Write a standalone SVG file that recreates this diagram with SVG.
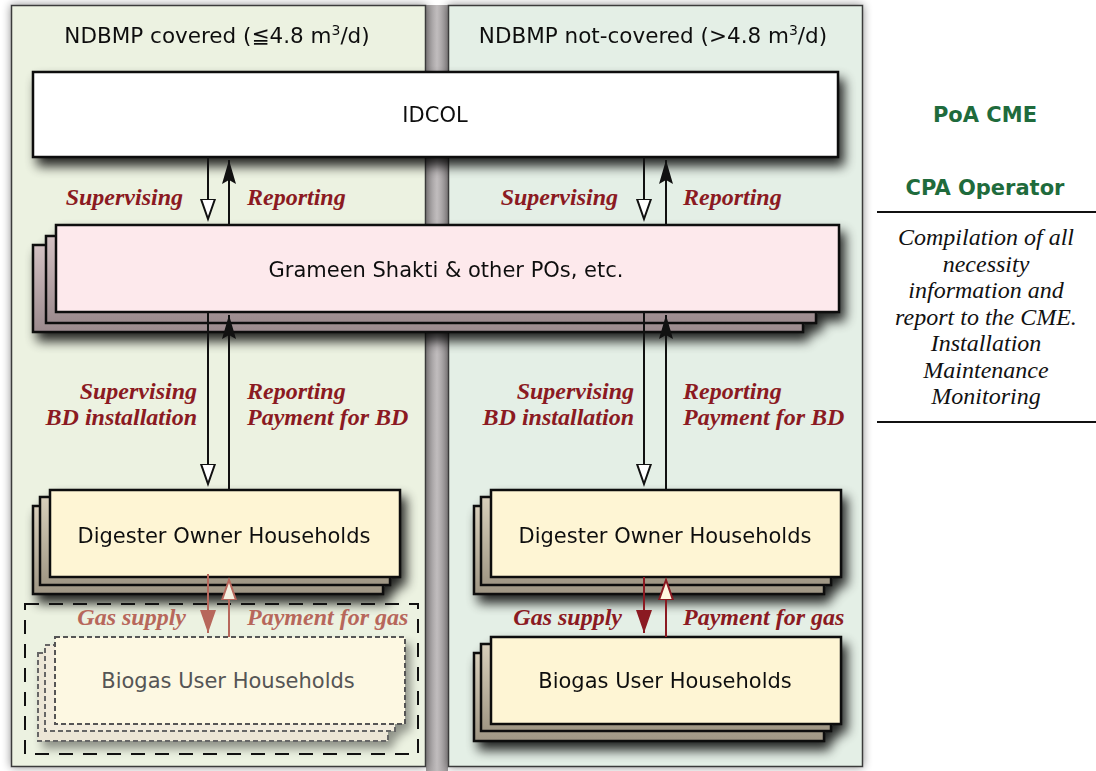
<svg xmlns="http://www.w3.org/2000/svg" width="1096" height="771" viewBox="0 0 1096 771">
<style>
.sans{font-family:"DejaVu Sans","Liberation Sans",sans-serif;font-size:21px;fill:#111;text-anchor:middle}
.hdr{font-size:21.5px}
.lbl{font-family:"Liberation Serif","Times New Roman",serif;font-style:italic;font-weight:bold;font-size:24px;fill:#8b1a22}
.fade{fill:#b7675b}
.end{text-anchor:end}
.note{font-family:"Liberation Serif","Times New Roman",serif;font-style:italic;font-size:24px;fill:#111;text-anchor:middle}
.grn{font-family:"DejaVu Sans","Liberation Sans",sans-serif;font-weight:bold;font-size:21px;fill:#1f6b3c;text-anchor:middle}
.box{stroke:#111;stroke-width:2.5}
.blk{stroke:#111;stroke-width:2;fill:none}
.red{stroke:#8b1a22;stroke-width:2;fill:none}
.redf{stroke:#b7675b;stroke-width:2;fill:none}
</style>
<defs>
<filter id="psh" x="-10%" y="-5%" width="120%" height="110%">
<feGaussianBlur in="SourceAlpha" stdDeviation="5"/>
<feComponentTransfer><feFuncA type="linear" slope="0.45"/></feComponentTransfer>
<feMerge><feMergeNode/><feMergeNode in="SourceGraphic"/></feMerge>
</filter>
<filter id="sh" x="-10%" y="-20%" width="125%" height="160%">
<feGaussianBlur in="SourceAlpha" stdDeviation="6"/>
<feOffset dx="5" dy="8"/>
<feComponentTransfer><feFuncA type="linear" slope="0.85"/></feComponentTransfer>
<feMerge><feMergeNode/><feMergeNode in="SourceGraphic"/></feMerge>
</filter>
<filter id="shl" x="-10%" y="-20%" width="125%" height="160%">
<feGaussianBlur in="SourceAlpha" stdDeviation="5"/>
<feOffset dx="5" dy="7"/>
<feComponentTransfer><feFuncA type="linear" slope="0.4"/></feComponentTransfer>
<feMerge><feMergeNode/><feMergeNode in="SourceGraphic"/></feMerge>
</filter>
<linearGradient id="pinkBack" x1="0" y1="0" x2="0" y2="1">
<stop offset="0" stop-color="#d3c1c3"/><stop offset="1" stop-color="#9b8a8d"/>
</linearGradient>
<linearGradient id="yelBack" x1="0" y1="0" x2="0" y2="1">
<stop offset="0" stop-color="#d8cfbb"/><stop offset="1" stop-color="#9f9684"/>
</linearGradient>
<linearGradient id="gap" x1="0" y1="0" x2="1" y2="0">
<stop offset="0" stop-color="#9c9899"/><stop offset="0.5" stop-color="#c0bcbd"/><stop offset="1" stop-color="#9c9899"/>
</linearGradient>
<marker id="hollow" markerUnits="userSpaceOnUse" markerWidth="24" markerHeight="18" viewBox="0 -9 24 18" refX="0" refY="0" orient="auto">
<path d="M0,-7 L20,0 L0,7 Z" fill="#fff" stroke="#111" stroke-width="2"/>
</marker>
<marker id="filled" markerUnits="userSpaceOnUse" markerWidth="26" markerHeight="18" viewBox="0 -9 26 18" refX="24" refY="0" orient="auto">
<path d="M0,-7 L24,0 L0,7 L4,0 Z" fill="#111"/>
</marker>
<marker id="hollowR" markerUnits="userSpaceOnUse" markerWidth="24" markerHeight="18" viewBox="0 -9 24 18" refX="0" refY="0" orient="auto">
<path d="M0,-7 L20,0 L0,7 Z" fill="#fff7e0" stroke="#8b1a22" stroke-width="2"/>
</marker>
<marker id="filledR" markerUnits="userSpaceOnUse" markerWidth="26" markerHeight="18" viewBox="0 -9 26 18" refX="23" refY="0" orient="auto">
<path d="M0,-8 L23,0 L0,8 Z" fill="#8b1a22"/>
</marker>
<marker id="hollowF" markerUnits="userSpaceOnUse" markerWidth="24" markerHeight="18" viewBox="0 -9 24 18" refX="0" refY="0" orient="auto">
<path d="M0,-7 L20,0 L0,7 Z" fill="#f4f0e0" stroke="#b7675b" stroke-width="2"/>
</marker>
<marker id="filledF" markerUnits="userSpaceOnUse" markerWidth="26" markerHeight="18" viewBox="0 -9 26 18" refX="23" refY="0" orient="auto">
<path d="M0,-8 L23,0 L0,8 Z" fill="#b7675b"/>
</marker>
</defs>

<rect x="0" y="0" width="1096" height="771" fill="#fff"/>
<rect x="426" y="5" width="22" height="766" fill="url(#gap)"/>

<g id="panel-left" filter="url(#psh)">
<rect x="11.5" y="5.5" width="414" height="761" fill="#ecf2e1" stroke="#3a3a3a" stroke-width="1.5"/>
<text class="sans hdr" x="217" y="43">NDBMP covered (≦4.8 m<tspan font-size="14" dy="-8">3</tspan><tspan dy="8">/d)</tspan></text>
</g>
<g id="panel-right" filter="url(#psh)">
<rect x="448.5" y="5.5" width="414" height="761" fill="#e4efe6" stroke="#3a3a3a" stroke-width="1.5"/>
<text class="sans hdr" x="653" y="43">NDBMP not-covered (&gt;4.8 m<tspan font-size="14" dy="-8">3</tspan><tspan dy="8">/d)</tspan></text>
</g>

<g id="idcol" filter="url(#sh)">
<rect class="box" x="33" y="72" width="805" height="85" fill="#fff"/>
<text class="sans" x="435" y="122">IDCOL</text>
</g>

<g id="grameen" filter="url(#sh)">
<rect class="box" x="33" y="245" width="770" height="87" fill="url(#pinkBack)"/>
<rect class="box" x="46" y="236" width="770" height="87" fill="url(#pinkBack)"/>
<rect class="box" x="56" y="225" width="783" height="87" fill="#fde9ec"/>
<text class="sans" x="446" y="277">Grameen Shakti &amp; other POs, etc.</text>
</g>

<g id="digester-left" filter="url(#sh)">
<rect class="box" x="33" y="506" width="350" height="88" fill="url(#yelBack)"/>
<rect class="box" x="40" y="497" width="350" height="88" fill="url(#yelBack)"/>
<rect class="box" x="50" y="490" width="350" height="87" fill="#fef5d4"/>
<text class="sans" x="224" y="543">Digester Owner Households</text>
</g>

<g id="digester-right" filter="url(#sh)">
<rect class="box" x="474" y="506" width="350" height="88" fill="url(#yelBack)"/>
<rect class="box" x="481" y="497" width="350" height="88" fill="url(#yelBack)"/>
<rect class="box" x="491" y="490" width="350" height="87" fill="#fef5d4"/>
<text class="sans" x="665" y="543">Digester Owner Households</text>
</g>

<g id="biogas-left">
<rect x="25" y="604" width="393" height="150" fill="none" stroke="#111" stroke-width="2" stroke-dasharray="14,10"/>
<g filter="url(#shl)">
<rect x="38" y="653" width="350" height="88" fill="#ece6d6" stroke="#666" stroke-width="2" stroke-dasharray="5,3"/>
<rect x="45" y="645" width="350" height="86" fill="#f2ecdc" stroke="#666" stroke-width="2" stroke-dasharray="5,3"/>
<rect x="55" y="637" width="350" height="87" fill="#fdf8e2" stroke="#555" stroke-width="2" stroke-dasharray="5,3"/>
</g>
<text class="sans" x="228" y="688" style="fill:#555">Biogas User Households</text>
</g>

<g id="biogas-right" filter="url(#sh)">
<rect class="box" x="474" y="653" width="350" height="88" fill="url(#yelBack)"/>
<rect class="box" x="481" y="644" width="350" height="87" fill="url(#yelBack)"/>
<rect class="box" x="491" y="637" width="350" height="87" fill="#fef5d4"/>
<text class="sans" x="665" y="688">Biogas User Households</text>
</g>

<g id="connectors">
<line class="blk" x1="208" y1="157" x2="208" y2="199" marker-end="url(#hollow)"/>
<line class="blk" x1="229" y1="225" x2="229" y2="160" marker-end="url(#filled)"/>
<line class="blk" x1="644" y1="157" x2="644" y2="199" marker-end="url(#hollow)"/>
<line class="blk" x1="666" y1="225" x2="666" y2="160" marker-end="url(#filled)"/>
<line class="blk" x1="208" y1="312" x2="208" y2="464" marker-end="url(#hollow)"/>
<line class="blk" x1="229" y1="490" x2="229" y2="315" marker-end="url(#filled)"/>
<line class="blk" x1="644" y1="312" x2="644" y2="464" marker-end="url(#hollow)"/>
<line class="blk" x1="666" y1="490" x2="666" y2="315" marker-end="url(#filled)"/>
<line class="redf" x1="208" y1="574" x2="208" y2="633" marker-end="url(#filledF)"/>
<line class="redf" x1="229" y1="637" x2="229" y2="600" marker-end="url(#hollowF)"/>
<line class="red" x1="644" y1="577" x2="644" y2="633" marker-end="url(#filledR)"/>
<line class="red" x1="666" y1="637" x2="666" y2="600" marker-end="url(#hollowR)"/>
</g>

<g id="labels">
<text class="lbl end" x="183" y="205">Supervising</text>
<text class="lbl" x="247" y="205">Reporting</text>
<text class="lbl end" x="618" y="205">Supervising</text>
<text class="lbl" x="683" y="205">Reporting</text>
<text class="lbl end" x="197" y="399">Supervising</text>
<text class="lbl end" x="197" y="425">BD installation</text>
<text class="lbl" x="247" y="399">Reporting</text>
<text class="lbl" x="247" y="425">Payment for BD</text>
<text class="lbl end" x="634" y="399">Supervising</text>
<text class="lbl end" x="634" y="425">BD installation</text>
<text class="lbl" x="683" y="399">Reporting</text>
<text class="lbl" x="683" y="425">Payment for BD</text>
<text class="lbl fade end" x="186" y="625">Gas supply</text>
<text class="lbl fade" x="247" y="625">Payment for gas</text>
<text class="lbl end" x="622" y="625">Gas supply</text>
<text class="lbl" x="683" y="625">Payment for gas</text>
</g>

<g id="legend">
<text class="grn" x="985" y="122">PoA CME</text>
<text class="grn" x="985" y="195">CPA Operator</text>
<line x1="877" y1="212" x2="1096" y2="212" stroke="#111" stroke-width="2"/>
<text class="note" x="986" y="245">Compilation of all</text>
<text class="note" x="986" y="271.5">necessity</text>
<text class="note" x="986" y="298">information and</text>
<text class="note" x="986" y="324.5">report to the CME.</text>
<text class="note" x="986" y="351">Installation</text>
<text class="note" x="986" y="377.5">Maintenance</text>
<text class="note" x="986" y="404">Monitoring</text>
<line x1="877" y1="422" x2="1096" y2="422" stroke="#111" stroke-width="2"/>
</g>
</svg>
